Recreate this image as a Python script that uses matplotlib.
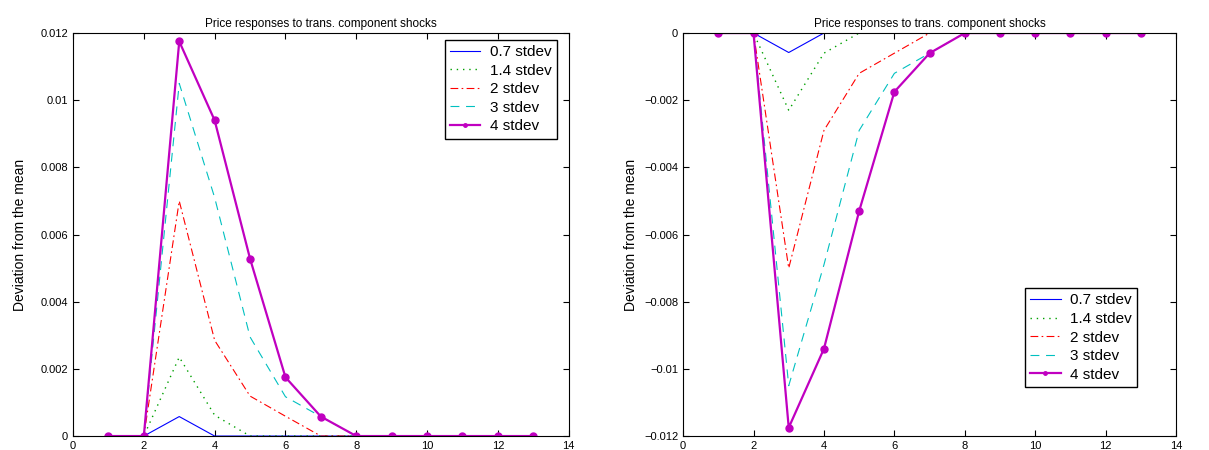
import numpy as np
import matplotlib.pyplot as plt
from matplotlib.ticker import FuncFormatter

plt.rcParams['font.family'] = ['Liberation Sans', 'DejaVu Sans']

# periods
t = [1, 2, 3, 4, 5, 6, 7, 8, 9, 10, 11, 12, 13]
labels = ['0.7 stdev', '1.4 stdev', '2 stdev', '3 stdev', '4 stdev']

# left panel (positive shocks)
left_07 = [0, 0, 0.00058, 0, 0, 0, 0, 0, 0, 0, 0, 0, 0]
left_14 = [0, 0, 0.00235, 0.00062, 0, 0, 0, 0, 0, 0, 0, 0, 0]
left_2 = [0, 0, 0.0070, 0.00285, 0.00119, 0.00059, 0, 0, 0, 0, 0, 0, 0]
left_3 = [0, 0, 0.0105, 0.0071, 0.00295, 0.00117, 0.00058, 0, 0, 0, 0, 0, 0]
left_4 = [0, 0, 0.01175, 0.0094, 0.00528, 0.00175, 0.00058, 0, 0, 0, 0, 0, 0]

# right panel (negative shocks)
right_07 = [0, 0, -0.00058, 0, 0, 0, 0, 0, 0, 0, 0, 0, 0]
right_14 = [0, 0, -0.0023, -0.0006, 0, 0, 0, 0, 0, 0, 0, 0, 0]
right_2 = [0, 0, -0.0070, -0.0029, -0.0012, -0.0006, 0, 0, 0, 0, 0, 0, 0]
right_3 = [0, 0, -0.0105, -0.0069, -0.0029, -0.0012, -0.0006, 0, 0, 0, 0, 0, 0]
right_4 = [0, 0, -0.01175, -0.0094, -0.0053, -0.00175, -0.0006, 0, 0, 0, 0, 0, 0]

styles = [
    dict(color='#0000ff', ls='-', lw=0.8),
    dict(color='#00a000', ls=(0, (1, 3.5)), lw=1.0),
    dict(color='#ff0000', ls=(0, (7, 3, 1.5, 3)), lw=0.8),
    dict(color='#00c0c0', ls=(0, (8, 6)), lw=0.8),
    dict(color='#c000c0', ls='-', lw=1.6, marker='o', ms=5),
]


def fmt(v, pos):
    if abs(v) < 1e-12:
        return '0'
    s = ('%.3f' % v).rstrip('0')
    return s.replace('-', '\u2212')


def panel(ax, series, ylim, yticks, legend_kw, pad):
    for y, lab, st in zip(series, labels, styles):
        ax.plot(t, y, label=lab, **st)
    ax.set_xlim(0, 14)
    ax.set_xticks(range(0, 15, 2))
    ax.set_ylim(*ylim)
    ax.set_yticks(yticks)
    ax.yaxis.set_major_formatter(FuncFormatter(fmt))
    ax.tick_params(direction='in', top=True, right=True, labelsize=8, length=4)
    ax.set_title('Price responses to trans. component shocks', fontsize=8.5, pad=4)
    ax.set_ylabel('Deviation from the mean', fontsize=10, labelpad=pad)
    leg = ax.legend(fontsize=11, fancybox=False, edgecolor='black', framealpha=1,
                    handlelength=2.0, handletextpad=0.6, labelspacing=0.3,
                    borderpad=0.35, borderaxespad=0.3, **legend_kw)
    leg.get_frame().set_linewidth(1.0)
    leg.legend_handles[4].set_markersize(2.5)


fig = plt.figure(figsize=(12.09, 4.5), dpi=100)
ax1 = fig.add_axes([0.0604, 0.031, 0.410, 0.8956])
ax2 = fig.add_axes([0.565, 0.031, 0.4078, 0.8956])

panel(ax1, [left_07, left_14, left_2, left_3, left_4], (0, 0.012),
      np.arange(0, 0.0121, 0.002),
      dict(loc='upper right', bbox_to_anchor=(0.985, 0.995)), 10)
panel(ax2, [right_07, right_14, right_2, right_3, right_4], (-0.012, 0),
      np.arange(-0.012, 0.0001, 0.002),
      dict(loc='lower right', bbox_to_anchor=(0.93, 0.11)), 4)

fig.savefig('out.png', dpi=100)
